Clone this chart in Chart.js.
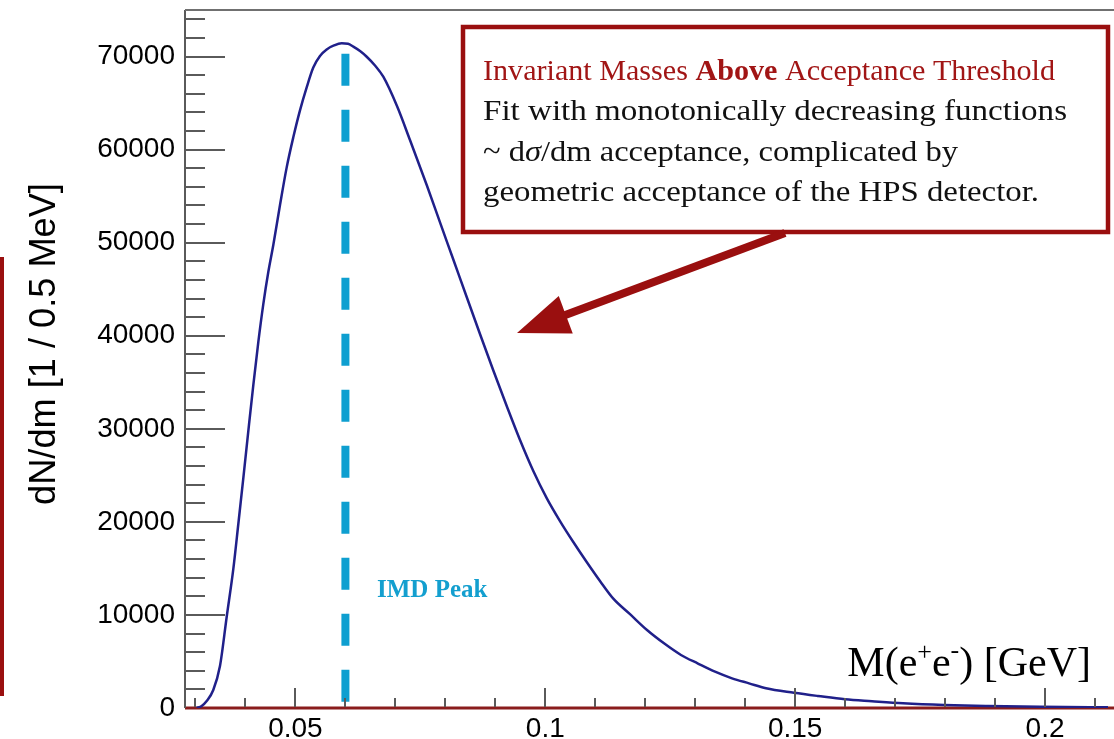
<!DOCTYPE html>
<html><head><meta charset="utf-8">
<script src="https://cdn.jsdelivr.net/npm/chart.js@4.4.1/dist/chart.umd.min.js"></script>
<style>html,body{margin:0;padding:0;background:#fff;overflow:hidden}canvas{display:block}</style>
</head><body>
<canvas id="c" width="1114" height="739"></canvas>
<script>
// ---- data ----
const masses = [0.03024,0.03124,0.03224,0.03356,0.03490,0.03624,0.03757,0.03857,0.03957,0.04057,0.04157,0.04257,0.04357,0.04457,0.04557,0.04691,0.04825,0.04957,0.05091,0.05225,0.05357,0.05491,0.05625,0.05772,0.05926,0.06052,0.06158,0.06292,0.06426,0.06592,0.06758,0.07032,0.07292,0.07627,0.07893,0.08159,0.08427,0.08693,0.08960,0.09228,0.09494,0.09760,0.10028,0.10294,0.10560,0.10828,0.11094,0.11361,0.11695,0.12035,0.12375,0.12715,0.13055,0.13396,0.13736,0.14076,0.14416,0.14976,0.15457,0.15997,0.16537,0.17158,0.17978,0.18859,0.19899,0.21260];
const counts = [0,215,750,1930,4510,9780,14940,19770,24710,29760,34700,39320,43400,46840,49740,54040,58090,61320,64220,66690,68820,70060,70760,71190,71420,71370,71060,70590,69980,69040,67830,64680,61030,56200,52180,48190,44160,40190,36260,32450,28800,25470,22560,20090,17840,15690,13650,11750,10080,8380,6950,5700,4780,3900,3190,2650,2120,1640,1290,930,720,500,320,215,140,75];
const peakMass = 0.06;
const peakSpan = [70300, 0];
const yTickValues = [0,10000,20000,30000,40000,50000,60000,70000];
const xTickValues = [0.05,0.1,0.15,0.2];
const yRange = [0, 75000];
const xRange = [0.0279, 0.2138];
const yMinorStep = 2000;
const xMinorStep = 0.01;
const yTitle = 'dN/dm [1 / 0.5 MeV]';
const peakLabel = 'IMD Peak';
const boxLines = [
  [{t:'Invariant Masses '},{t:'Above',b:1},{t:' Acceptance Threshold'}],
  [{t:'Fit with monotonically decreasing functions'}],
  [{t:'~ d'},{t:'\u03C3',i:1},{t:'/dm acceptance, complicated by'}],
  [{t:'geometric acceptance of the HPS detector.'}]
];
const boxLineWidths = [572, 584, 475, 556];
// annotation anchors in data coordinates
const annot = {
  boxFrom:[0.08353,73173], boxTo:[0.21260,51146],
  arrowTail:[0.14796,51039], arrowTip:[0.09434,40293],
  peakLabelAt:[0.06632,11927],
  xTitleRight:[0.20920,3438]
};

const curve = masses.map((m,i)=>({x:m,y:counts[i]}));
const peak = peakSpan.map(v=>({x:peakMass,y:v}));

const SERIF = '"Liberation Serif", "DejaVu Serif", serif';
const SANS = '"Liberation Sans", Arial, sans-serif';
const RED = '#9a0f0f';

function fitSize(ctx, text, fontTpl, target){
  ctx.font = fontTpl(100);
  return 100*target/ctx.measureText(text).width;
}

const deco = {
  id:'deco',
  beforeDatasetsDraw(chart){
    const {ctx, chartArea:a, scales:{y}} = chart;
    ctx.save();
    ctx.strokeStyle = '#8a1c1c'; ctx.lineWidth = 3;
    const y0 = y.getPixelForValue(0);
    ctx.beginPath(); ctx.moveTo(a.left, y0); ctx.lineTo(a.right, y0); ctx.stroke();
    ctx.restore();
  },
  afterDraw(chart){
    const {ctx, chartArea:a, scales:{x,y}} = chart;
    const P = (p)=>[x.getPixelForValue(p[0]), y.getPixelForValue(p[1])];
    ctx.save();
    // frame: left axis and top line
    ctx.strokeStyle = '#5a5a5a'; ctx.lineWidth = 2;
    ctx.beginPath(); ctx.moveTo(a.left, a.top); ctx.lineTo(a.left, a.bottom); ctx.stroke();
    ctx.strokeStyle = '#707070';
    ctx.beginPath(); ctx.moveTo(a.left, a.top); ctx.lineTo(a.right, a.top); ctx.stroke();
    // y ticks (inward)
    ctx.strokeStyle = '#5a5a5a'; ctx.lineWidth = 2;
    for (let v = yRange[0] + yMinorStep; v < yRange[1]; v += yMinorStep){
      const py = Math.round(y.getPixelForValue(v));
      const major = v % 10000 === 0;
      ctx.beginPath(); ctx.moveTo(a.left, py); ctx.lineTo(a.left + (major?40:20), py); ctx.stroke();
    }
    // x ticks (upward)
    const y0 = y.getPixelForValue(0);
    for (let k = Math.ceil(xRange[0]/xMinorStep); k*xMinorStep < xRange[1]; k++){
      const v = k*xMinorStep;
      const pxx = Math.round(x.getPixelForValue(v));
      const major = k % 5 === 0;
      ctx.beginPath(); ctx.moveTo(pxx, y0-1); ctx.lineTo(pxx, y0 - (major?20:10)); ctx.stroke();
    }
    // left red bar
    ctx.fillStyle = RED;
    ctx.fillRect(0, 257, 4, 439);
    // y title
    ctx.save();
    const ts = fitSize(ctx, yTitle, s=>`${s}px ${SANS}`, 322);
    ctx.font = `${ts}px ${SANS}`;
    ctx.fillStyle = '#000'; ctx.textAlign='center'; ctx.textBaseline='middle';
    ctx.translate(45, 344); ctx.rotate(-Math.PI/2);
    ctx.fillText(yTitle, 0, 0);
    ctx.restore();
    // annotation box
    const [bx0, by0] = P(annot.boxFrom), [bx1, by1] = P(annot.boxTo);
    ctx.fillStyle = '#fff';
    ctx.fillRect(bx0, by0, bx1-bx0, by1-by0);
    ctx.strokeStyle = RED; ctx.lineWidth = 4.5;
    ctx.strokeRect(bx0, by0, bx1-bx0, by1-by0);
    const fs = 30;
    const offs = [53, 93, 134, 174];
    ctx.textBaseline = 'alphabetic'; ctx.textAlign = 'left';
    boxLines.forEach((line, li)=>{
      let w = 0;
      line.forEach(seg=>{
        ctx.font = `${seg.i?'italic ':''}${seg.b?'bold ':''}${fs}px ${SERIF}`;
        w += ctx.measureText(seg.t).width;
      });
      const sx = boxLineWidths[li] / w;
      ctx.save();
      ctx.translate(bx0 + 20, by0 + offs[li]);
      ctx.scale(sx, 1);
      let cx = 0;
      ctx.fillStyle = li === 0 ? '#a11515' : '#111';
      line.forEach(seg=>{
        ctx.font = `${seg.i?'italic ':''}${seg.b?'bold ':''}${fs}px ${SERIF}`;
        ctx.fillText(seg.t, cx, 0);
        cx += ctx.measureText(seg.t).width;
      });
      ctx.restore();
    });
    // arrow
    const [tx, ty] = P(annot.arrowTail), [hx, hy] = P(annot.arrowTip);
    const dx = tx-hx, dy = ty-hy, L = Math.hypot(dx,dy), ux = dx/L, uy = dy/L;
    const hl = 52, hw = 20;
    ctx.strokeStyle = RED; ctx.lineWidth = 8; ctx.lineCap='butt';
    ctx.beginPath(); ctx.moveTo(tx, ty); ctx.lineTo(hx + ux*(hl-4), hy + uy*(hl-4)); ctx.stroke();
    ctx.fillStyle = RED;
    ctx.beginPath();
    ctx.moveTo(hx, hy);
    ctx.lineTo(hx + ux*hl - uy*hw, hy + uy*hl + ux*hw);
    ctx.lineTo(hx + ux*hl + uy*hw, hy + uy*hl - ux*hw);
    ctx.closePath(); ctx.fill();
    // IMD Peak label
    const [lx, ly] = P(annot.peakLabelAt);
    ctx.font = `bold 25px ${SERIF}`; ctx.fillStyle = '#139fcf';
    ctx.fillText(peakLabel, lx, ly);
    // x title M(e+e-) [GeV]
    const [rx, ry] = P(annot.xTitleRight);
    const big = `42px ${SERIF}`, small = `26px ${SERIF}`;
    const parts = [{t:'M(e',f:big,r:0},{t:'+',f:small,r:16},{t:'e',f:big,r:0},{t:'-',f:small,r:18},{t:') [GeV]',f:big,r:0}];
    let tw = 0;
    parts.forEach(p=>{ctx.font=p.f; p.w = ctx.measureText(p.t).width; tw += p.w;});
    let cx = rx - tw;
    ctx.fillStyle = '#000';
    parts.forEach(p=>{ctx.font=p.f; ctx.fillText(p.t, cx, ry - p.r); cx += p.w;});
    ctx.restore();
  }
};

new Chart(document.getElementById('c').getContext('2d'), {
  type:'line',
  data:{datasets:[
    {data:peak, borderColor:'#0e9fd0', borderWidth:8, borderDash:[32,24], borderCapStyle:'butt', pointRadius:0, order:2},
    {data:curve, borderColor:'#20208a', borderWidth:2.5, pointRadius:0, cubicInterpolationMode:'monotone', order:1}
  ]},
  options:{
    responsive:false, animation:false, devicePixelRatio:1,
    layout:{padding:{top:10,right:0,left:0,bottom:0}},
    plugins:{legend:{display:false}, tooltip:{enabled:false}},
    scales:{
      x:{type:'linear', min:xRange[0], max:xRange[1],
         grid:{display:false, drawTicks:false}, border:{display:false},
         afterBuildTicks:s=>{s.ticks = xTickValues.map(v=>({value:v}));},
         afterFit:s=>{s.height = 31; s.paddingLeft = 0; s.paddingRight = 0;},
         ticks:{font:{family:'Liberation Sans', size:28}, color:'#000', padding:4, maxRotation:0, autoSkip:false, callback:v=>String(v)}},
      y:{type:'linear', min:yRange[0], max:yRange[1],
         grid:{display:false, drawTicks:false}, border:{display:false},
         afterBuildTicks:s=>{s.ticks = yTickValues.map(v=>({value:v}));},
         afterFit:s=>{s.width = 185; s.paddingTop = 0; s.paddingBottom = 0;},
         ticks:{font:{family:'Liberation Sans', size:28}, color:'#000', padding:10, autoSkip:false, callback:v=>String(v)}}
    }
  },
  plugins:[deco]
});
</script>
</body></html>
